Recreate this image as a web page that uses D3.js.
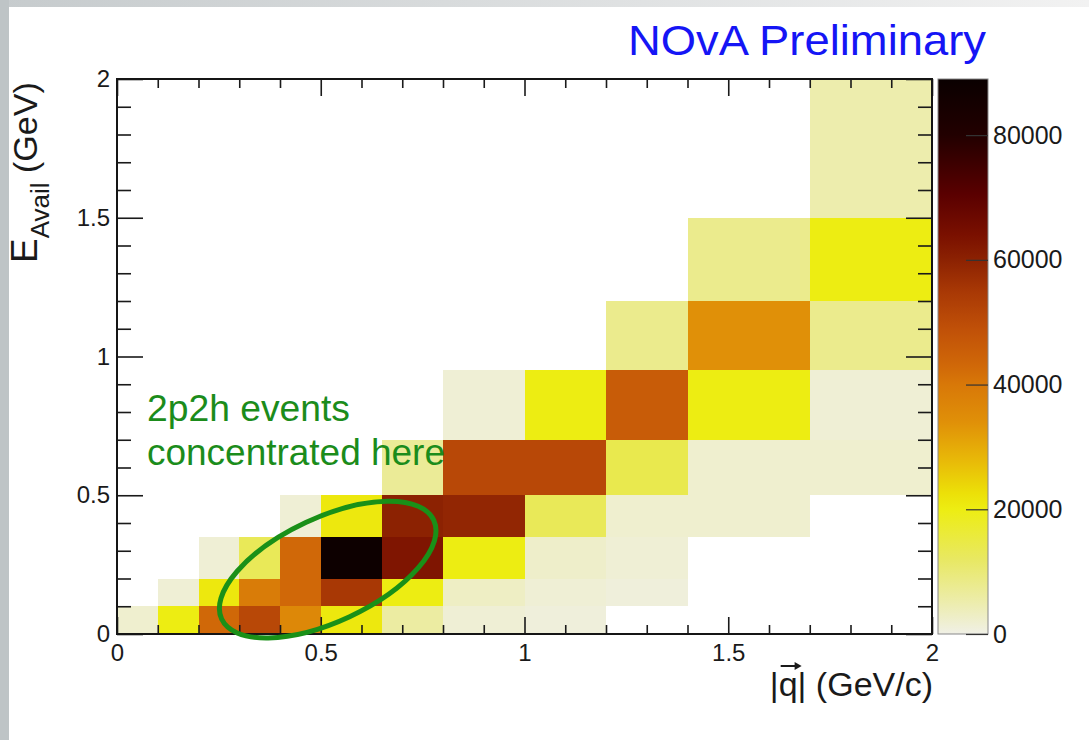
<!DOCTYPE html>
<html lang="en">
<head>
<meta charset="UTF-8">
<title>NOvA E_Avail vs |q|</title>
<style>
  body { margin: 0; background: #fff; }
  svg { display: block; font-family: "Liberation Sans", Arial, Helvetica, sans-serif; }
</style>
</head>
<body>
<svg id="chart" width="1089" height="740"></svg>
<script src="https://d3js.org/d3.v7.min.js"></script>
<script>
// bin edges (variable width bins)
var qEdges = [0, 0.1, 0.2, 0.3, 0.4, 0.5, 0.65, 0.8, 1.0, 1.2, 1.4, 1.7, 2.0];
var eEdges = [0, 0.1, 0.2, 0.35, 0.5, 0.7, 0.95, 1.2, 1.5, 2.0];

// events per bin: one row per E_Avail bin (bottom -> top), one entry per |q| bin
var counts = [
  [2000, 20000, 43000, 51000, 36000, 21000, 6000, 1500, 1000, 0, 0, 0],
  [0, 1500, 21000, 39000, 43000, 55000, 20000, 3000, 1500, 1000, 0, 0],
  [0, 0, 1500, 13000, 43000, 88000, 63000, 20000, 2500, 1500, 0, 0],
  [0, 0, 0, 0, 1500, 21000, 60000, 59000, 13000, 2000, 2000, 0],
  [0, 0, 0, 0, 0, 0, 7000, 51000, 51000, 14000, 2000, 2000],
  [0, 0, 0, 0, 0, 0, 0, 1500, 20000, 46000, 20000, 1500],
  [0, 0, 0, 0, 0, 0, 0, 0, 0, 8000, 34000, 8000],
  [0, 0, 0, 0, 0, 0, 0, 0, 0, 0, 8000, 20000],
  [0, 0, 0, 0, 0, 0, 0, 0, 0, 0, 0, 5000]
];

var axisTicks = [0, 0.5, 1, 1.5, 2];
var axisLabels = ["0", "0.5", "1", "1.5", "2"];
var zTicks = [0, 20000, 40000, 60000, 80000];
var zMax = 89000;

// palette
var paletteValues = [0, 6000, 12000, 20000, 22600, 28000, 34000, 40000, 43000, 49000, 55000, 60000, 64000, 70500, 80000, 89000];
var paletteColors = ["#f0f0e6", "#ececa2", "#e8e862", "#eded12", "#ece008", "#e8b808", "#e09008", "#d87808",
                     "#d06808", "#c05008", "#a83805", "#8c2202", "#7a1000", "#5a0000", "#220000", "#0a0000"];

var svg = d3.select("#chart");

var x = d3.scaleLinear().domain([0, 2]).range([117, 932]);
var y = d3.scaleLinear().domain([0, 2]).range([634, 79]);
var color = d3.scaleLinear().domain(paletteValues).range(paletteColors);
var z = d3.scaleLinear().domain([0, zMax]).range([634, 79]);

// slide background strips
var defs = svg.append("defs");
var topGrad = defs.append("linearGradient").attr("id", "topStrip");
topGrad.append("stop").attr("offset", 0).attr("stop-color", "#c6cbcd");
topGrad.append("stop").attr("offset", 1).attr("stop-color", "#f2f2f2");
svg.append("rect").attr("x", 0).attr("y", 0).attr("width", 1089).attr("height", 7).attr("fill", "url(#topStrip)");
svg.append("rect").attr("x", 0).attr("y", 0).attr("width", 9).attr("height", 740).attr("fill", "#bec4c6");

// histogram cells
var cells = [];
counts.forEach(function(row, j) {
  row.forEach(function(v, i) {
    if (v > 0) cells.push({ i: i, j: j, v: v });
  });
});

svg.append("g").selectAll("rect")
  .data(cells)
  .enter()
  .append("rect")
  .attr("x", function(d) { return x(qEdges[d.i]); })
  .attr("y", function(d) { return y(eEdges[d.j + 1]); })
  .attr("width", function(d) { return x(qEdges[d.i + 1]) - x(qEdges[d.i]); })
  .attr("height", function(d) { return y(eEdges[d.j]) - y(eEdges[d.j + 1]); })
  .attr("fill", function(d) { return color(d.v); })
  .attr("shape-rendering", "crispEdges");

// axes, ROOT style: ticks inside on all four sides
function styleAxis(g) {
  g.select(".domain").remove();
  g.selectAll("line").attr("stroke", "#1a1a1a").attr("stroke-width", 1.6);
  g.selectAll("text").attr("font-size", 24).attr("fill", "#1a1a1a")
    .attr("font-family", "'Liberation Sans', Arial, sans-serif");
}
var minor = d3.range(0, 21).map(function(k) { return k / 10; })
  .filter(function(v) { return axisTicks.indexOf(v) < 0; });
var fmt = function(d) { return axisLabels[axisTicks.indexOf(d)]; };

svg.append("g").attr("transform", "translate(0,634)")
  .call(d3.axisBottom(x).tickValues(axisTicks).tickSize(-17).tickPadding(10).tickFormat(fmt)).call(styleAxis);
svg.append("g").attr("transform", "translate(0,634)")
  .call(d3.axisBottom(x).tickValues(minor).tickSize(-9).tickFormat("")).call(styleAxis);
svg.append("g").attr("transform", "translate(0,79)")
  .call(d3.axisTop(x).tickValues(axisTicks).tickSize(-17).tickFormat("")).call(styleAxis);
svg.append("g").attr("transform", "translate(0,79)")
  .call(d3.axisTop(x).tickValues(minor).tickSize(-9).tickFormat("")).call(styleAxis);

svg.append("g").attr("transform", "translate(117,0)")
  .call(d3.axisLeft(y).tickValues(axisTicks).tickSize(-26).tickPadding(7).tickFormat(fmt)).call(styleAxis);
svg.append("g").attr("transform", "translate(117,0)")
  .call(d3.axisLeft(y).tickValues(minor).tickSize(-14).tickFormat("")).call(styleAxis);
svg.append("g").attr("transform", "translate(932,0)")
  .call(d3.axisRight(y).tickValues(axisTicks).tickSize(-26).tickFormat("")).call(styleAxis);
svg.append("g").attr("transform", "translate(932,0)")
  .call(d3.axisRight(y).tickValues(minor).tickSize(-14).tickFormat("")).call(styleAxis);

// frame
svg.append("rect")
  .attr("x", x(0)).attr("y", y(2))
  .attr("width", x(2) - x(0)).attr("height", y(0) - y(2))
  .attr("fill", "none").attr("stroke", "#151515").attr("stroke-width", 2);

// colour bar
var grad = defs.append("linearGradient").attr("id", "zGrad")
  .attr("x1", 0).attr("y1", 1).attr("x2", 0).attr("y2", 0);
grad.selectAll("stop")
  .data(paletteValues)
  .enter()
  .append("stop")
  .attr("offset", function(d) { return d / zMax; })
  .attr("stop-color", function(d) { return color(d); });

svg.append("rect")
  .attr("x", 938).attr("y", z(zMax))
  .attr("width", 50).attr("height", z(0) - z(zMax))
  .attr("fill", "url(#zGrad)")
  .attr("stroke", "#888").attr("stroke-width", 1);

svg.append("g").attr("transform", "translate(988,0)")
  .call(d3.axisRight(z).tickValues(zTicks).tickSize(-22).tickPadding(5).tickFormat(d3.format("d")))
  .call(styleAxis)
  .call(function(g) {
    g.selectAll("line").attr("stroke-width", 1.2).attr("stroke", "#333");
    g.selectAll("text").attr("font-size", 25);
  });

// axis titles
var yTitle = svg.append("text")
  .attr("transform", "translate(37,263) rotate(-90)")
  .attr("fill", "#1a1a1a");
yTitle.append("tspan").attr("font-size", 37).text("E");
yTitle.append("tspan").attr("font-size", 26).attr("dy", 12).text("Avail");
yTitle.append("tspan").attr("font-size", 34).attr("dy", -12).text(" (GeV)");

var xTitle = svg.append("text")
  .attr("x", 933).attr("y", 696)
  .attr("text-anchor", "end")
  .attr("font-size", 34)
  .attr("fill", "#1a1a1a")
  .text("|q| (GeV/c)");

// vector arrow over q
var node = xTitle.node();
var q0 = node.getStartPositionOfChar(1).x;
var q1 = node.getEndPositionOfChar(1).x;
var ay = 666;
svg.append("line")
  .attr("x1", q0 + 2).attr("y1", ay).attr("x2", q1 + 1).attr("y2", ay)
  .attr("stroke", "#1a1a1a").attr("stroke-width", 2);
svg.append("path")
  .attr("d", "M" + (q1 + 4) + "," + ay + "L" + (q1 - 3) + "," + (ay - 4) + "L" + (q1 - 3) + "," + (ay + 4) + "Z")
  .attr("fill", "#1a1a1a");

// title
svg.append("text")
  .attr("x", 986).attr("y", 55)
  .attr("text-anchor", "end")
  .attr("font-size", 42)
  .attr("textLength", 358).attr("lengthAdjust", "spacingAndGlyphs")
  .attr("fill", "#1515f5")
  .text("NOvA Preliminary");

// annotation
svg.append("text")
  .attr("x", 147).attr("y", 421)
  .attr("font-size", 36).attr("fill", "#1b8c1b")
  .attr("textLength", 203).attr("lengthAdjust", "spacingAndGlyphs")
  .text("2p2h events");
svg.append("text")
  .attr("x", 147).attr("y", 465)
  .attr("font-size", 36).attr("fill", "#1b8c1b")
  .attr("textLength", 298).attr("lengthAdjust", "spacingAndGlyphs")
  .text("concentrated here");

svg.append("ellipse")
  .attr("transform", "translate(" + x(0.517) + "," + y(0.232) + ") rotate(-25)")
  .attr("rx", 117).attr("ry", 52)
  .attr("fill", "none")
  .attr("stroke", "#1a9018")
  .attr("stroke-width", 5);
</script>
</body>
</html>
